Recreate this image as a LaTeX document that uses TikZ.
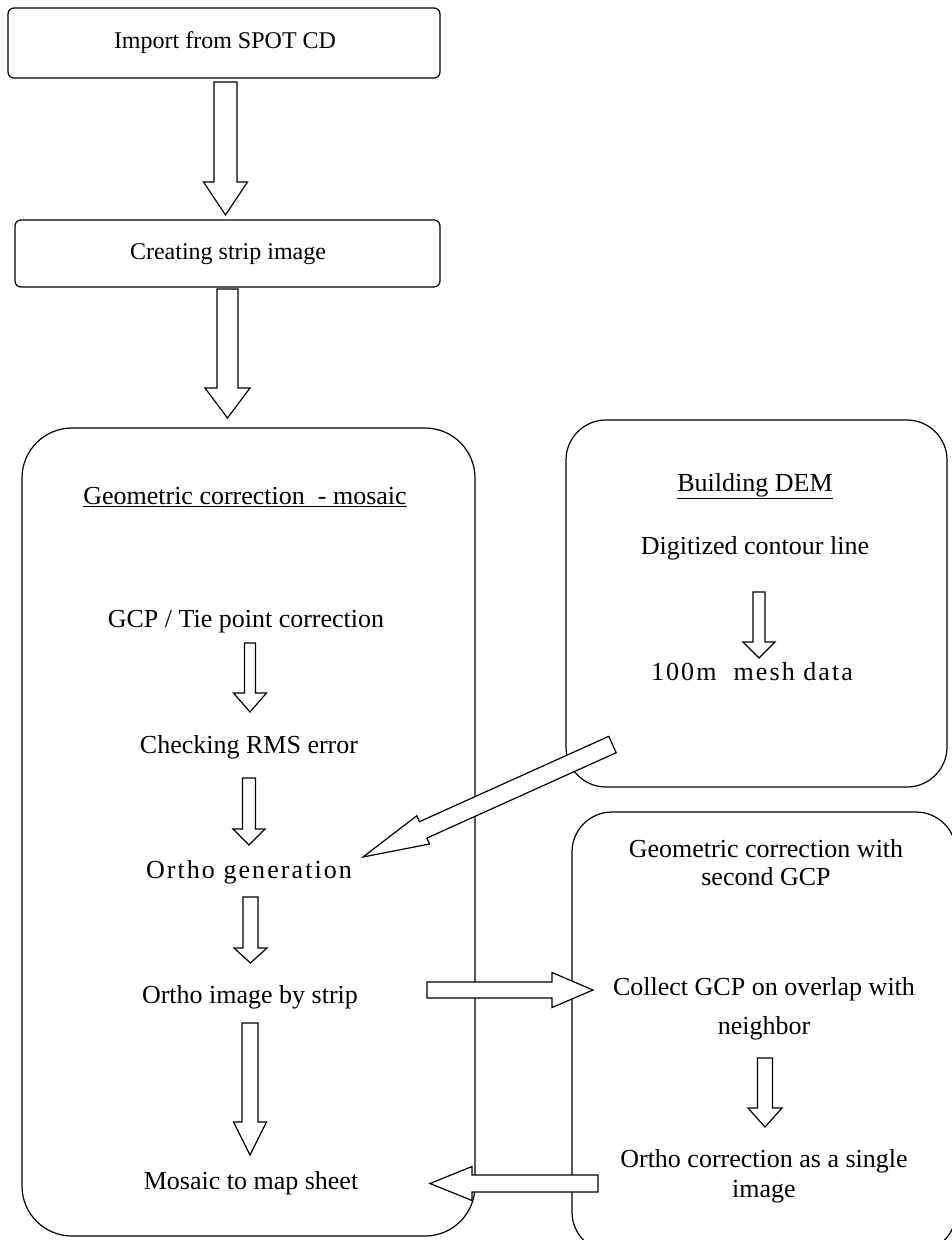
\documentclass[tikz,border=0pt]{standalone}
\usepackage{fontspec}
\setmainfont{Liberation Serif}
\newfontfamily\widefont[LetterSpace=8]{Liberation Serif}
\usepackage{tikz}
\usetikzlibrary{calc}

% hollow block arrow: from, to, half shaft, half head, head length
\newcommand{\fatarrow}[5]{%
  \coordinate (fa-h) at ($(#2)!#5!(#1)$);
  \draw[fill=white, line width=1.2pt, line join=miter]
    ($(#1)!#3!90:(#2)$) -- ($(fa-h)!#3!90:(#2)$) -- ($(fa-h)!#4!90:(#2)$) -- (#2)
    -- ($(fa-h)!#4!-90:(#2)$) -- ($(fa-h)!#3!-90:(#2)$) -- ($(#1)!#3!-90:(#2)$) -- cycle;
}

\begin{document}
\begin{tikzpicture}[x=1pt, y=-1pt,
    lbl/.style={font=\fontsize{26}{30}\selectfont, inner sep=0pt, align=center},
    toplbl/.style={font=\fontsize{24}{28}\selectfont, inner sep=0pt},
    frame/.style={line width=1.2pt}]
  \useasboundingbox (0,0) rectangle (952,1240);

  % top boxes
  \draw[frame, rounded corners=6pt] (8,8) rectangle (440,78);
  \node[toplbl] (import) at (225,43) {Import from SPOT CD};
  \draw[frame, rounded corners=6pt] (15,220) rectangle (440,287);
  \node[toplbl] (strip) at (228,254) {Creating strip image};

  % big containers
  \draw[frame, rounded corners=50pt] (22,428) rectangle (475,1236);
  \draw[frame, rounded corners=40pt] (566,420) rectangle (947,787);
  \draw[frame, rounded corners=40pt] (572,812) rectangle (956,1252);

  % left column
  \node[lbl] (geo) at (245,497) {\underline{Geometric correction\ \ - mosaic}};
  \node[lbl] (gcp) at (246,622) {GCP / Tie point correction};
  \node[lbl] (rms) at (249,747) {Checking RMS error};
  \node[lbl, font=\widefont\fontsize{26}{30}\selectfont] (ortho) at (249,872) {Ortho generation};
  \node[lbl] (bystrip) at (250,997) {Ortho image by strip};
  \node[lbl] (mosaic) at (251,1183) {Mosaic to map sheet};

  % DEM box
  \node[lbl] (dem) at (755,486) {\underline{Building DEM}};
  \node[lbl] (contour) at (755,548) {Digitized contour line};
  \node[lbl, font=\widefont\fontsize{26}{30}\selectfont] (mesh) at (752,672) {100m\ \ mesh data};

  % second GCP box
  \node[lbl] (second) at (766,863) {Geometric correction with\\[-2pt]second GCP};
  \node[lbl] (collect) at (764,1009) {Collect GCP on overlap with\\[9pt]neighbor};
  \node[lbl] (single) at (764,1176) {Ortho correction as a single\\image};

  % arrow ends
  \coordinate (a1s) at (225.5,82);   \coordinate (a1e) at (225.5,215);
  \coordinate (a2s) at (227.5,289);  \coordinate (a2e) at (227.5,418);
  \coordinate (a3s) at (250,643);    \coordinate (a3e) at (250,712);
  \coordinate (a4s) at (249,778);    \coordinate (a4e) at (249,845);
  \coordinate (a5s) at (250.5,897);  \coordinate (a5e) at (250.5,963);
  \coordinate (a6s) at (250,1023);   \coordinate (a6e) at (250,1155);
  \coordinate (a7s) at (759,592);    \coordinate (a7e) at (759,658);
  \coordinate (a8s) at (765,1058);   \coordinate (a8e) at (765,1127);
  \coordinate (demout) at (612.5,744.5); \coordinate (orthoin) at (363,857);
  \coordinate (stripout) at (427,990);   \coordinate (collectin) at (593,990);
  \coordinate (singleout) at (598,1183.5); \coordinate (mosaicin) at (430,1183.5);

  % arrows
  \fatarrow{a1s}{a1e}{11.5pt}{22pt}{33pt}
  \fatarrow{a2s}{a2e}{10.5pt}{22.5pt}{30pt}
  \fatarrow{a3s}{a3e}{5.5pt}{16.5pt}{19pt}
  \fatarrow{a4s}{a4e}{6.5pt}{16pt}{16pt}
  \fatarrow{a5s}{a5e}{7.5pt}{16.5pt}{15pt}
  \fatarrow{a6s}{a6e}{8pt}{16.5pt}{33pt}
  \fatarrow{a7s}{a7e}{6pt}{16pt}{16pt}
  \fatarrow{a8s}{a8e}{7.5pt}{17pt}{19pt}
  \fatarrow{demout}{orthoin}{9pt}{15.5pt}{66pt}
  \fatarrow{stripout}{collectin}{8pt}{17.5pt}{41pt}
  \fatarrow{singleout}{mosaicin}{8.5pt}{17pt}{42pt}
\end{tikzpicture}
\end{document}
